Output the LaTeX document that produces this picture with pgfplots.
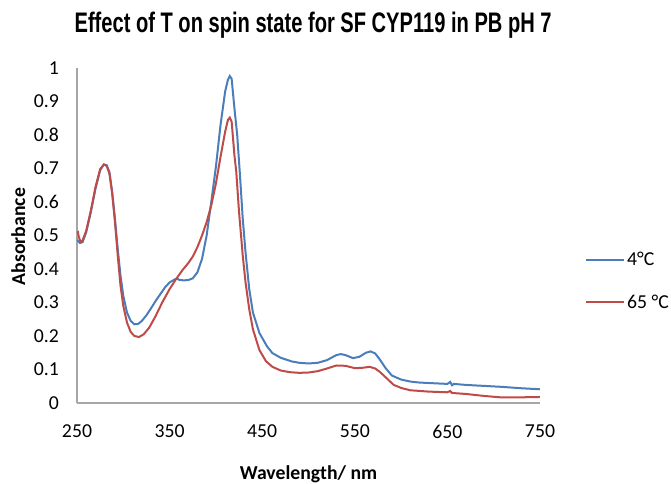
\documentclass[border=0pt]{standalone}
\usepackage{pgfplots}
\pgfplotsset{compat=1.18}
\usepackage{pgfplotstable}
\usepackage{fontspec}
\usepackage{graphicx}
\setmainfont{Carlito}
\newfontfamily\titlefont{Liberation Sans}
\definecolor{xlblue}{HTML}{4A7EBB}
\definecolor{xlred}{HTML}{BE4B48}
\definecolor{axgray}{HTML}{A6A6A6}

\pgfplotstableread{
x y
250 0.487
253 0.478
256 0.480
260 0.510
265 0.570
270 0.640
275 0.695
279 0.712
282 0.710
285 0.690
288 0.630
291 0.550
294 0.460
297 0.380
300 0.320
304 0.270
308 0.245
312 0.235
316 0.236
320 0.245
325 0.262
330 0.283
335 0.305
340 0.325
345 0.345
350 0.360
355 0.368
358 0.372
360 0.368
365 0.366
370 0.367
375 0.372
380 0.390
385 0.430
390 0.500
395 0.600
400 0.705
405 0.830
410 0.930
413 0.965
415 0.976
417 0.968
420 0.880
423 0.800
426 0.680
429 0.550
432 0.450
436 0.340
440 0.270
447 0.209
455 0.170
461 0.149
470 0.135
482 0.124
490 0.120
500 0.118
510 0.120
520 0.128
530 0.143
535 0.146
540 0.143
548 0.134
555 0.138
562 0.150
567 0.154
572 0.148
577 0.130
583 0.105
590 0.082
600 0.070
610 0.064
620 0.061
635 0.059
650 0.057
653 0.063
655 0.053
657 0.057
670 0.054
690 0.051
710 0.048
730 0.044
750 0.041
}\bluedata

\pgfplotstableread{
x y
250 0.508
251 0.510
252 0.495
254 0.480
256 0.485
260 0.515
265 0.575
270 0.645
275 0.698
279 0.712
282 0.708
285 0.685
288 0.625
291 0.540
294 0.440
297 0.350
300 0.290
304 0.240
308 0.212
312 0.200
317 0.197
322 0.205
328 0.225
335 0.260
342 0.300
350 0.340
357 0.370
364 0.397
370 0.417
375 0.437
380 0.465
385 0.500
390 0.540
395 0.590
400 0.655
405 0.735
410 0.810
413 0.845
415 0.852
417 0.840
420 0.740
422 0.690
425 0.570
429 0.440
432 0.360
436 0.280
440 0.220
447 0.158
454 0.125
461 0.108
470 0.097
480 0.092
490 0.090
500 0.091
510 0.095
520 0.103
530 0.112
540 0.111
550 0.104
558 0.105
566 0.108
572 0.103
577 0.093
584 0.075
592 0.054
600 0.045
610 0.038
630 0.034
650 0.032
653 0.036
655 0.030
670 0.027
690 0.021
707 0.017
730 0.017
750 0.018
}\reddata

\begin{document}
\begin{tikzpicture}
\begin{axis}[
  scale only axis,
  width=347.25pt, height=251.25pt,
  xmin=250, xmax=750, ymin=0, ymax=1,
  xtick={250,350,...,750},
  ytick={0,0.1,...,1},
  yticklabels={0,0.1,0.2,0.3,0.4,0.5,0.6,0.7,0.8,0.9,1},
  /pgf/number format/assume math mode=true,
  tick label style={font=\fontsize{14.8}{17}\selectfont},
  xticklabel style={yshift=-13pt},
  yticklabel style={xshift=-10pt},
  major tick length=0pt,
  axis x line*=bottom, axis y line*=left,
  axis line style={axgray, line width=0.9pt, -},
  title={\resizebox{357.75pt}{1.06\height}{\fontsize{20}{24}\selectfont\titlefont\bfseries Effect of T on spin state for SF CYP119 in PB pH 7}},
  title style={at={(0.51,1.082)}, anchor=base, inner sep=0pt},
  xlabel={Wavelength/ nm},
  xlabel style={at={(0.5,-0.227)}, anchor=base, font=\fontsize{14.8}{17}\selectfont\bfseries, inner sep=0pt},
  ylabel={Absorbance},
  ylabel style={at={(-0.112,0.497)}, anchor=base, font=\fontsize{14.8}{17}\selectfont\bfseries, inner sep=0pt},
  legend cell align=left,
  legend style={draw=none, fill=none, at={(1.097,0.46)}, anchor=north west, inner sep=0pt,
    font=\fontsize{14.8}{17}\selectfont, row sep=16.5pt, nodes={inner xsep=1.5pt}},
  legend image code/.code={\draw[#1, line width=1.5pt] (0pt,0pt) -- (28.5pt,0pt);},
]
\addplot[xlblue, line width=1.5pt] table {\bluedata};
\addlegendentry{4°C}
\addplot[xlred, line width=1.5pt] table {\reddata};
\addlegendentry{65 °C}
\end{axis}
\pgfresetboundingbox
\path[use as bounding box] ([shift={(-57.75pt,-60pt)}]current axis.south west) rectangle ([shift={(445.5pt,302.25pt)}]current axis.south west);
\end{tikzpicture}
\end{document}
